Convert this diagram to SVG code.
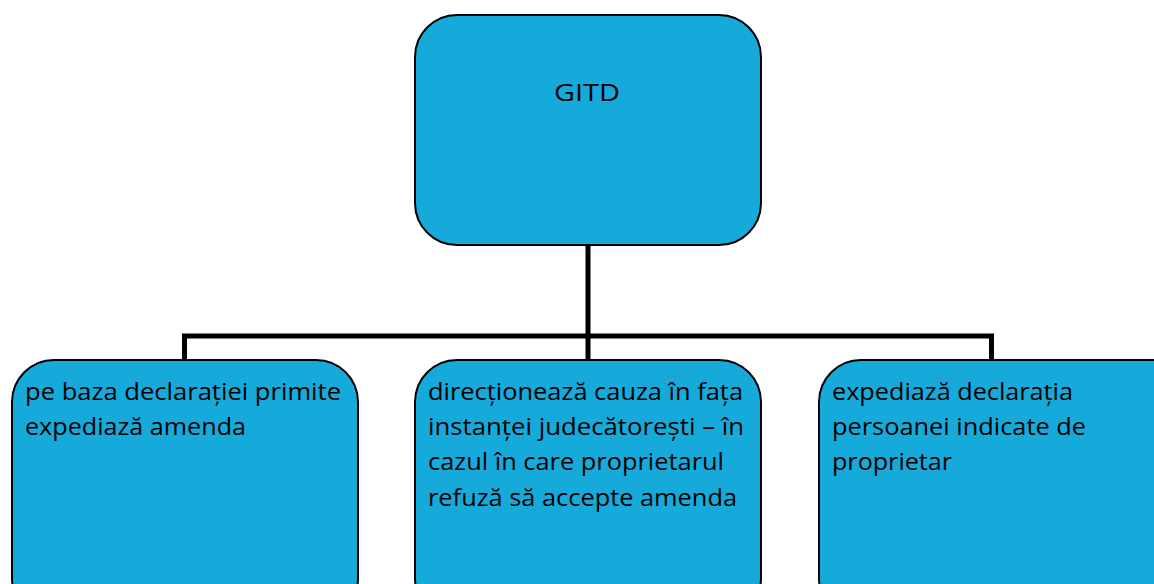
<svg xmlns="http://www.w3.org/2000/svg" width="1154" height="584" viewBox="0 0 1154 584">
<style>
.box{fill:#16AADB;stroke:#000;stroke-width:2}
.t{font-family:"Open Sans","Noto Sans","Liberation Sans",sans-serif;font-size:24.5px;fill:#000}
.conn{fill:none;stroke:#000;stroke-width:5}
</style>
<rect width="1154" height="584" fill="#fff"/>
<g id="connectors">
<path class="conn" d="M588,245 V336 M184.5,360 V336 H991.5 V360 M588,336 V360"/>
</g>
<g id="gitd">
<rect class="box" x="415" y="15" width="346" height="230" rx="42" ry="42"/>
<text class="t" x="554" y="101" font-size="30" textLength="66" lengthAdjust="spacingAndGlyphs">GITD</text>
</g>
<g id="amenda">
<rect class="box" x="12" y="360" width="346" height="260" rx="42" ry="42"/>
<text class="t" x="25" y="400" textLength="316" lengthAdjust="spacingAndGlyphs">pe baza declarației primite</text>
<text class="t" x="25" y="435" textLength="221" lengthAdjust="spacingAndGlyphs">expediază amenda</text>
</g>
<g id="instanta">
<rect class="box" x="415" y="360" width="346" height="260" rx="42" ry="42"/>
<text class="t" x="428" y="400" textLength="315" lengthAdjust="spacingAndGlyphs">direcționează cauza în fața</text>
<text class="t" x="428" y="435" textLength="316" lengthAdjust="spacingAndGlyphs">instanței judecătorești – în</text>
<text class="t" x="428" y="470" textLength="296" lengthAdjust="spacingAndGlyphs">cazul în care proprietarul</text>
<text class="t" x="428" y="506" textLength="309" lengthAdjust="spacingAndGlyphs">refuză să accepte amenda</text>
</g>
<g id="declaratia">
<rect class="box" x="819" y="360" width="380" height="260" rx="42" ry="42"/>
<text class="t" x="832" y="400" textLength="241" lengthAdjust="spacingAndGlyphs">expediază declarația</text>
<text class="t" x="832" y="435" textLength="254" lengthAdjust="spacingAndGlyphs">persoanei indicate de</text>
<text class="t" x="832" y="470" textLength="120" lengthAdjust="spacingAndGlyphs">proprietar</text>
</g>
</svg>
